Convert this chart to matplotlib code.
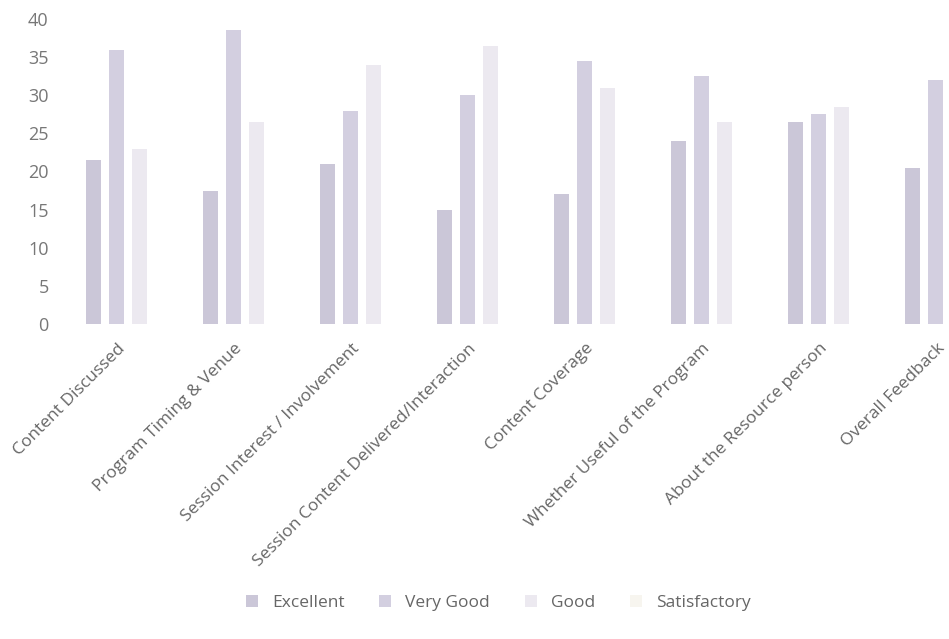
import numpy as np
import matplotlib
matplotlib.use("Agg")
import matplotlib.pyplot as plt
import matplotlib.transforms as mtransforms

# Dades llegides del gràfic escanejat
categories = ["Content Discussed", "Program Timing & Venue", "Session Interest / Involvement",
              "Session Content Delivered/Interaction", "Content Coverage",
              "Whether Useful of the Program", "About the Resource person", "Overall Feedback"]
excellent = [21.5, 17.5, 21, 15, 17, 24, 26.5, 20.5]
very_good = [36, 38.5, 28, 30, 34.5, 32.5, 27.5, 32]
good = [23, 26.5, 34, 36.5, 31, 26.5, 28.5, 30]
satisfactory = [0, 0, 0, 0, 0, 0, 0, 0]

series = ["Excellent", "Very Good", "Good", "Satisfactory"]
colors = ["#cbc7d8", "#d3cfe0", "#ece9f0", "#f7f5ef"]

plt.rcParams['font.family'] = ['Open Sans', 'DejaVu Sans']

fig = plt.figure(figsize=(9.49, 6.39), dpi=100)
ax = fig.add_axes([69.5 / 949, 315 / 639, 936 / 949, 305 / 639])

x = np.arange(len(categories))
step = 0.197
w = 0.13
for i, (vals, name) in enumerate(zip([excellent, very_good, good, satisfactory], series)):
    ax.bar(x + (i - 1.5) * step, vals, width=w, color=colors[i], label=name)

ax.set_xlim(-0.5, len(categories) - 0.5)
ax.set_ylim(0, 40)
ax.set_yticks(range(0, 41, 5))
for s in ax.spines.values():
    s.set_visible(False)
ax.tick_params(axis='y', length=0, pad=15, labelsize=13, labelcolor='#777777')
ax.tick_params(axis='x', length=0, pad=16)
ax.set_xticks(x)
ax.set_xticklabels(categories, rotation=45, ha='right', va='center', rotation_mode='anchor',
                   fontsize=12.5, color='#666666')
# petit desplaçament a l'esquerra perquè l'última etiqueta no quedi tallada
shift = mtransforms.ScaledTranslation(-5 / 100, 0, fig.dpi_scale_trans)
for lab in ax.get_xticklabels():
    lab.set_transform(lab.get_transform() + shift)

leg = fig.legend(loc='center', bbox_to_anchor=(0.525, 1 - 603 / 639), ncol=4, frameon=False,
                 fontsize=12.5, handlelength=0.7, handleheight=0.7, columnspacing=2.0)
for t in leg.get_texts():
    t.set_color('#666666')

fig.savefig("out.png", dpi=100)
